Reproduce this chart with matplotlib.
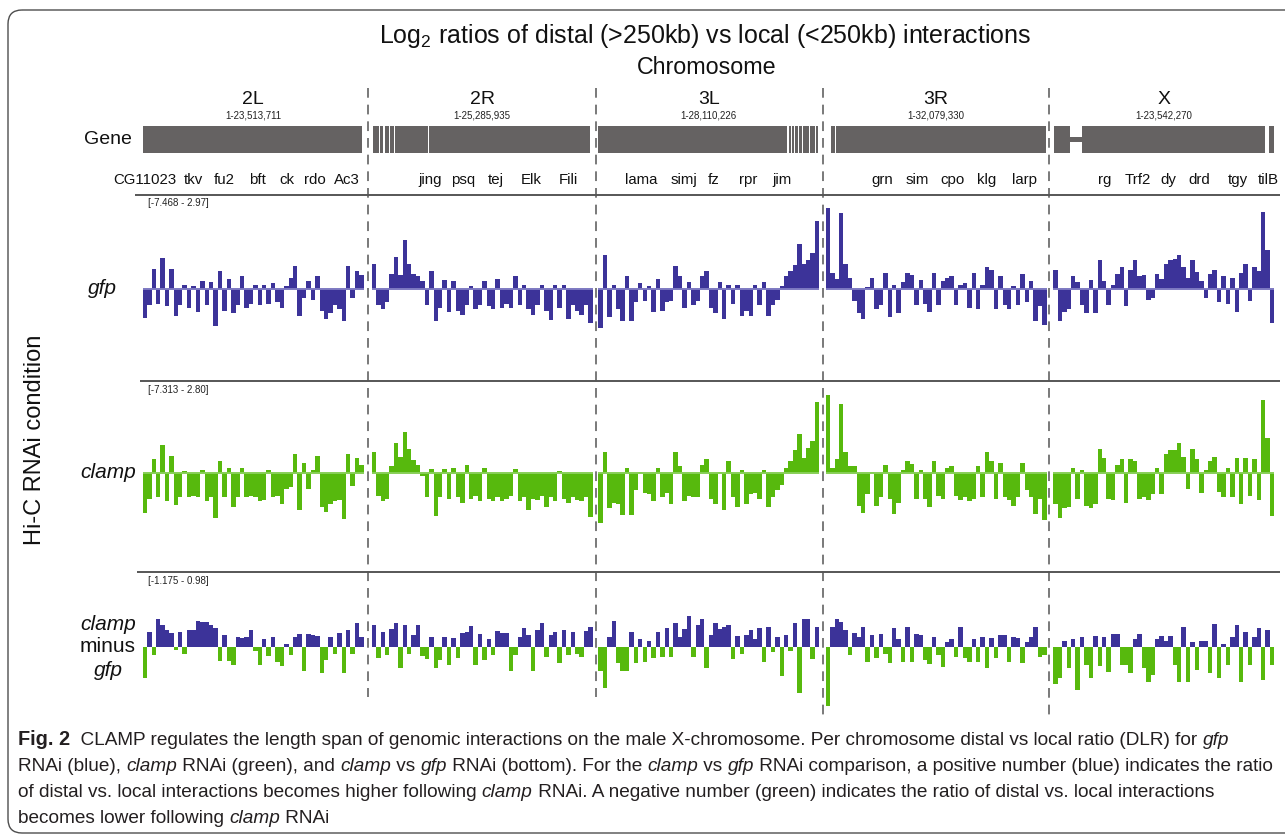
import matplotlib
matplotlib.use("Agg")
import matplotlib.pyplot as plt
import matplotlib.patches as patches
import matplotlib.transforms as mtransforms
import numpy as np

plt.rcParams['lines.scale_dashes'] = False
plt.rcParams['mathtext.default'] = 'regular'

W, H = 1285, 839
WIDE = ['Liberation Sans', 'DejaVu Sans']
NARROW = ['Liberation Sans Narrow', 'Liberation Sans', 'DejaVu Sans']

BLUE = '#3c3399'
GREEN = '#57b90d'
BLUE_LINE = '#7d79c2'
GREEN_LINE = '#88cf58'
GENE_GRAY = '#656262'
CAP_COLOR = '#231f20'

# chromosomes
chroms = ['2L', '2R', '3L', '3R', 'X']
chrom_len = [23513711, 25285935, 28110226, 32079330, 23542270]
chrom_range = ['1-23,513,711', '1-25,285,935', '1-28,110,226', '1-32,079,330', '1-23,542,270']

# gene labels (name, position in Mb)
genes_2L = [('CG11023', 0.26), ('tkv', 5.36), ('fu2', 8.65), ('bft', 12.16), ('ck', 15.35), ('rdo', 18.33), ('Ac3', 21.73)]
genes_2R = [('jing', 6.67), ('psq', 10.44), ('tej', 14.22), ('Elk', 18.22), ('Fili', 22.45)]
genes_3L = [('lama', 5.43), ('simj', 10.9), ('fz', 14.72), ('rpr', 19.04), ('jim', 23.37)]
genes_3R = [('grn', 8.17), ('sim', 13.26), ('cpo', 18.34), ('klg', 23.42), ('larp', 28.79)]
genes_X = [('rg', 5.51), ('Trf2', 9.02), ('dy', 12.22), ('drd', 15.52), ('tgy', 19.67), ('tilB', 22.87)]

# gene track coverage (start Mb, end Mb)
gene_blocks_2L = [(0.0, 23.33)]
gene_blocks_2R = [(0.15, 0.8), (0.92, 1.35), (1.47, 1.95), (2.07, 2.6), (2.72, 6.4), (6.52, 25.0)]
gene_blocks_3L = [(0.0, 24.05), (24.2, 24.45), (24.6, 24.85), (25.0, 25.35), (25.5, 25.9),
                  (26.05, 26.75), (26.9, 27.6), (27.75, 27.95)]
gene_blocks_3R = [(0.77, 1.35), (1.5, 31.95)]
gene_blocks_X = [(0.03, 1.78), (3.06, 22.55), (22.95, 23.5)]
gene_thin_X = [(1.78, 3.06)]

# log2 distal/local ratio, gfp RNAi (50 bins per chromosome)
gfp_2L = [-1.06, -0.6, 0.72, -0.55, 1.12, -0.65, 0.72, -1.0, -0.6, 0.12, -0.7, 0.1, -0.85, 0.3, -0.6,
          0.25, -1.35, 0.66, -0.8, 0.35, -0.9, -0.6, 0.45, -0.7, -0.55, 0.12, -0.6, 0.12, -0.55, 0.2,
          -0.5, -0.7, 0.1, 0.4, 0.83, -1.0, -0.35, 0.3, -0.4, 0.45, -0.8, -1.1, -0.9, -0.6, -0.75,
          -1.2, 0.83, -0.35, 0.66, 0.5]
gfp_2R = [0.9, -0.6, -0.75, -0.5, 0.55, 1.15, 0.5, 1.78, 0.9, 0.55, 0.45, 0.3, -0.6, 0.66, -1.2,
          -0.7, 0.32, -0.85, 0.3, -0.8, -0.95, -0.6, 0.1, -0.75, -0.6, 0.3, -0.65, -0.75, 0.35, -0.7,
          -0.55, -0.7, 0.46, -0.6, 0.15, -0.75, -0.95, -0.6, 0.12, -0.8, -1.15, 0.15, -0.7, 0.12, -1.1,
          -0.6, -0.8, -0.95, -0.6, -1.27]
gfp_3L = [-1.45, 1.23, -1.05, 0.12, -0.75, -1.2, 0.45, -1.2, -0.5, 0.2, -0.45, 0.1, -0.85, 0.35, -0.8,
          -0.5, -0.45, 0.83, 0.45, -0.7, 0.25, -0.6, -0.45, 0.45, 0.66, -0.7, -0.9, 0.25, -1.1, 0.15,
          -0.55, 0.12, -1.0, -0.8, -1.0, 0.12, -0.6, 0.25, -1.0, -0.6, -0.4, 0.1, 0.45, 0.65, 0.85,
          1.65, 0.9, 1.05, 1.3, 2.48]
gfp_3R = [2.94, 0.56, 0.35, 2.76, 0.9, 0.4, -0.45, -0.9, -1.12, 0.05, 0.38, -0.75, -0.6, 0.56, -1.05,
          0.15, -0.9, 0.25, 0.56, 0.5, -0.6, 0.32, -0.55, -0.85, 0.56, -0.6, 0.3, 0.38, 0.45, -0.6,
          0.15, 0.2, -0.7, 0.56, -0.75, 0.12, 0.8, 0.7, -0.75, 0.45, -0.6, -0.75, 0.1, -0.6, 0.55,
          -0.5, 0.3, -1.2, -0.65, -1.33]
gfp_X = [0.7, -1.2, -0.85, -0.75, 0.46, 0.25, -0.6, -0.9, 0.32, -0.9, 1.05, 0.3, -0.6, 0.15, 0.55,
         0.8, -0.65, 0.7, 1.05, 0.45, 0.5, -0.4, -0.35, 0.55, 0.35, 0.9, 1.05, 1.1, 1.23, 0.78,
         0.4, 1.05, 0.62, 0.3, -0.35, 0.55, 0.7, -0.5, 0.46, -0.55, 0.38, -0.85, 0.56, 0.9, -0.45,
         0.78, 0.65, 2.82, 1.4, -1.27]

# clamp RNAi
clamp_2L = [-1.43, -0.9, 0.5, -0.85, 1.0, -1.0, 0.62, -1.13, -0.85, 0.1, -0.85, -0.8, -0.85, 0.12, -1.0,
            -0.85, -1.58, 0.45, -0.85, 0.18, -1.2, -0.85, 0.18, -0.85, -0.8, -0.85, -1.0, -0.95, 0.12, -0.85,
            -0.8, -1.1, -0.55, -0.5, 0.7, -1.3, 0.36, -0.55, 0.12, 0.62, -1.2, -1.37, -1.1, -1.0, -0.95,
            -1.64, 0.7, -0.45, 0.55, 0.3]
clamp_2R = [0.77, -0.8, -1.0, -0.9, 0.25, 1.1, 0.57, 1.49, 0.86, 0.48, 0.3, -0.1, -0.85, 0.15, -1.52,
            -0.85, 0.15, -0.9, 0.2, -0.85, -1.05, 0.3, -0.9, -0.8, -1.0, 0.18, -0.9, -1.0, -0.85, -1.0,
            -0.9, -0.8, 0.15, -1.0, -0.85, -1.3, -0.9, -0.95, -0.8, -1.2, -0.85, -1.0, 0.1, -0.9, -1.05,
            -0.85, -0.95, -1.0, -0.85, -1.55]
clamp_3L = [-1.76, 0.77, -1.25, -1.05, -1.1, -1.5, 0.2, -1.5, -0.6, 0.05, -0.7, -0.75, -1.0, 0.2, -0.85,
            -0.7, -1.1, 0.77, 0.25, -1.0, -0.8, -0.85, -0.85, 0.3, 0.5, -0.9, -1.1, 0.06, -1.3, 0.45,
            -0.85, -1.2, 0.12, -1.1, -0.75, -0.7, -0.9, 0.12, -1.2, -0.85, -0.6, -0.4, 0.18, 0.45, 0.85,
            1.4, 0.55, 0.9, 1.17, 2.55]
clamp_3R = [2.8, 0.2, 0.5, 2.48, 0.77, 0.25, 0.25, -1.15, -1.43, -0.75, 0.06, -1.15, -0.85, 0.3, -0.9,
            -1.45, -1.05, 0.12, 0.45, 0.35, -0.9, 0.12, -0.9, -1.2, 0.45, -0.8, -0.9, 0.18, 0.25, -0.8,
            -0.95, -0.85, -1.0, -0.9, 0.25, -0.85, 0.77, 0.45, -0.9, 0.36, -0.85, -0.95, -1.15, -0.85, 0.36,
            -0.6, -0.85, -1.45, -0.9, -1.67]
clamp_X = [-1.1, -1.58, -1.25, -1.2, 0.18, -0.9, 0.12, -1.15, -1.25, -1.1, 0.86, 0.55, -0.9, -0.95, 0.3,
           0.5, -1.05, 0.5, 0.45, -0.9, -0.85, -0.95, -0.75, 0.2, -0.75, 0.7, 0.83, 0.85, 1.07, 0.6,
           -0.55, 0.86, 0.5, -0.7, 0.12, 0.45, 0.57, -0.65, -0.85, 0.18, -0.85, 0.55, -1.1, 0.55, -0.8,
           0.5, -0.95, 2.62, 1.25, -1.51]

# clamp minus gfp
diff_2L = [-1.0, 0.48, -0.27, 0.88, 0.68, 0.53, 0.45, -0.1, 0.48, -0.22, 0.53, 0.53, 0.82, 0.78, 0.78,
           0.7, 0.6, -0.45, 0.38, -0.45, -0.58, 0.32, 0.29, 0.32, 0.53, -0.14, -0.6, 0.24, -0.3, 0.32,
           -0.48, -0.62, 0.1, -0.27, 0.32, 0.4, -0.78, 0.4, 0.37, 0.35, -0.83, -0.42, 0.32, -0.22, 0.43,
           -0.83, 0.53, -0.22, 0.75, 0.32]
diff_2R = [0.68, -0.35, 0.48, -0.25, 0.58, 0.75, -0.69, 0.68, -0.22, 0.37, 0.68, -0.3, -0.38, 0.32, -0.69,
           -0.43, 0.32, -0.58, 0.28, -0.37, 0.43, 0.48, 0.67, -0.58, 0.39, -0.43, 0.26, -0.27, 0.5, 0.43,
           0.43, -0.78, -0.27, 0.32, 0.59, 0.37, -0.78, 0.53, 0.75, -0.32, 0.37, 0.48, -0.53, 0.53, -0.27,
           0.48, -0.22, -0.32, 0.5, 0.64]
diff_3L = [-0.78, -1.33, 0.32, 0.82, -0.53, -0.78, -0.78, 0.48, -0.53, 0.24, -0.48, 0.18, -0.37, 0.48, -0.32,
           0.61, -0.32, 0.75, 0.32, 0.55, 0.99, -0.32, 0.69, 0.9, -0.69, 0.37, 0.75, 0.58, 0.64, 0.69,
           -0.4, 0.34, -0.24, 0.37, 0.53, 0.25, 0.6, -0.48, 0.63, -0.18, 0.32, -0.93, 0.37, -0.14, 0.77,
           -1.49, 0.9, 0.9, -0.4, 0.64]
diff_3R = [-1.91, 0.64, 0.9, 0.8, 0.53, -0.27, 0.43, 0.32, 0.63, -0.48, 0.37, -0.35, 0.39, -0.22, -0.53,
           0.59, 0.25, -0.48, 0.62, -0.48, 0.39, 0.37, -0.43, -0.56, 0.32, -0.27, -0.64, 0.16, 0.24, -0.32,
           0.62, -0.37, -0.48, 0.24, -0.48, 0.32, -0.69, 0.29, -0.37, 0.37, 0.37, -0.48, 0.32, 0.29, -0.53,
           0.16, 0.32, 0.62, -0.32, -0.27]
diff_X = [-1.2, -0.99, 0.18, -0.69, 0.24, -1.38, 0.32, -0.58, -0.99, 0.34, -0.62, 0.32, -0.82, 0.39, 0.39,
          -0.57, -0.6, -0.85, 0.24, 0.39, -0.69, -1.14, -0.9, 0.24, 0.34, 0.18, 0.34, -0.57, -1.12, 0.64,
          -1.14, 0.16, -0.74, 0.18, 0.18, -0.85, 0.74, -0.99, 0.1, -0.58, 0.32, 0.69, -1.12, 0.46, -0.57,
          0.32, 0.59, -1.06, 0.53, -0.57]

gene_labels = [genes_2L, genes_2R, genes_3L, genes_3R, genes_X]
gene_blocks = [gene_blocks_2L, gene_blocks_2R, gene_blocks_3L, gene_blocks_3R, gene_blocks_X]
gene_thin = [[], [], [], [], gene_thin_X]

# track: values per chromosome, colour, baseline line colour, range text,
#        pixel layout (top, bottom, baseline, px per unit)
tracks = [
    ([gfp_2L, gfp_2R, gfp_3L, gfp_3R, gfp_X], 'gfp', BLUE_LINE, '[-7.468 - 2.97]', (196, 380, 288.7, 27.3)),
    ([clamp_2L, clamp_2R, clamp_3L, clamp_3R, clamp_X], 'clamp', GREEN_LINE, '[-7.313 - 2.80]', (383, 571, 473.3, 28.0)),
    ([diff_2L, diff_2R, diff_3L, diff_3R, diff_X], 'diff', None, '[-1.175 - 0.98]', (574, 830, 646.7, 31.3)),
]

panel_left = [142.7, 371.7, 598.3, 825.7, 1053.3]
panel_w = 221

fig = plt.figure(figsize=(W / 100, H / 100), dpi=100)
fig.patch.set_facecolor('white')
over = fig.add_axes([0, 0, 1, 1])
over.set_xlim(0, W)
over.set_ylim(H, 0)
over.axis('off')
renderer = fig.canvas.get_renderer()


def px_axes(left, top, width, height):
    ax = fig.add_axes([left / W, 1 - (top + height) / H, width / W, height / H])
    ax.axis('off')
    ax.patch.set_alpha(0)
    return ax


def text_width(s, **kw):
    t1 = over.text(0, 0, 'x' + s + 'x', **kw)
    t2 = over.text(0, 0, 'xx', **kw)
    w = t1.get_window_extent(renderer).width - t2.get_window_extent(renderer).width
    t1.remove()
    t2.remove()
    return w


def fit_size(s, target, **kw):
    return 10 * target / text_width(s, fontsize=10, **kw)


# border of the figure panel
over.add_patch(patches.FancyBboxPatch((8, 10), 1330, 823, boxstyle='round,pad=0,rounding_size=14',
                                      fill=False, edgecolor='#4d4d4d', lw=1.0))

# titles
title = 'Log$_2$ ratios of distal (>250kb) vs local (<250kb) interactions'
over.text(705, 36, title, ha='center', va='center', family=WIDE,
          fontsize=fit_size(title, 654, family=WIDE), color='#111')
over.text(707, 67, 'Chromosome', ha='center', va='center', family=WIDE,
          fontsize=fit_size('Chromosome', 140, family=WIDE), color='#111')

over.text(108, 140, 'Gene', ha='center', va='center', family=WIDE, fontsize=14, color='#111')
over.text(35, 440, 'Hi-C RNAi condition', ha='center', va='center', rotation=90,
          family=WIDE, fontsize=17, color='#111')
over.text(102, 289, 'gfp', ha='center', va='center', family=WIDE, style='italic', fontsize=15, color='#111')
over.text(108, 473, 'clamp', ha='center', va='center', family=WIDE, style='italic', fontsize=15, color='#111')
over.text(108, 625, 'clamp', ha='center', va='center', family=WIDE, style='italic', fontsize=15, color='#111')
over.text(108, 647, 'minus', ha='center', va='center', family=WIDE, fontsize=15, color='#111')
over.text(108, 670, 'gfp', ha='center', va='center', family=WIDE, style='italic', fontsize=15, color='#111')

# track separators and chromosome dividers
for y, x0 in [(195, 135), (381, 140), (572, 137)]:
    over.plot([x0, 1280], [y, y], color='#3a3a3a', lw=1.2, solid_capstyle='butt')
for x, y1 in zip([368, 596, 823, 1049], [697, 697, 717, 717]):
    over.plot([x, x], [88, y1], color='#555555', lw=1.1, dashes=(7, 5))

gene_size = fit_size('CG11023', 63, family=NARROW)

for i, name in enumerate(chroms):
    cx = panel_left[i] + panel_w / 2
    over.text(cx, 100, name, ha='center', va='center', family=WIDE, fontsize=14, color='#111')
    over.text(cx, 115, chrom_range[i], ha='center', va='center', family=WIDE, fontsize=7, color='#222')

    length_mb = chrom_len[i] / 1e6

    # gene track
    gax = px_axes(panel_left[i], 126, panel_w, 27)
    gax.set_xlim(0, length_mb)
    gax.set_ylim(0, 1)
    gax.broken_barh([(a, b - a) for a, b in gene_blocks[i]], (0, 1), color=GENE_GRAY, lw=0)
    if gene_thin[i]:
        gax.broken_barh([(a, b - a) for a, b in gene_thin[i]], (0.42, 0.16), color=GENE_GRAY, lw=0)
    trans = mtransforms.blended_transform_factory(gax.transData, over.transData)
    for g, pos in gene_labels[i]:
        over.text(pos, 180, g, transform=trans, ha='center', va='center', family=NARROW,
                  fontsize=gene_size, color='#111')

    # data tracks
    for values_all, kind, line_col, rng, (top, bottom, base, scale) in tracks:
        vals = np.array(values_all[i])
        n = len(vals)
        ax = px_axes(panel_left[i], top, panel_w, bottom - top)
        ax.set_xlim(0, length_mb)
        ax.set_ylim(-(bottom - base) / scale, (base - top) / scale)
        centers = (np.arange(n) + 0.5) * length_mb / n
        if kind == 'gfp':
            colors = BLUE
        elif kind == 'clamp':
            colors = GREEN
        else:
            colors = [BLUE if v > 0 else GREEN for v in vals]
        ax.bar(centers, vals, width=length_mb / n, color=colors, lw=0, antialiased=False)
        if line_col:
            ax.axhline(0, color=line_col, lw=1.4)
        if i == 0:
            over.text(148, top + 7, rng, ha='left', va='center', family=WIDE, fontsize=7, color='#222')

# caption
cap_lines = [
    [('Fig. 2', 'b'), ('  CLAMP regulates the length span of genomic interactions on the male X-chromosome. '
                       'Per chromosome distal vs local ratio (DLR) for ', 'n'), ('gfp', 'i')],
    [('RNAi (blue), ', 'n'), ('clamp', 'i'), (' RNAi (green), and ', 'n'), ('clamp', 'i'), (' vs ', 'n'),
     ('gfp', 'i'), (' RNAi (bottom). For the ', 'n'), ('clamp', 'i'), (' vs ', 'n'), ('gfp', 'i'),
     (' RNAi comparison, a positive number (blue) indicates the ratio', 'n')],
    [('of distal vs. local interactions becomes higher following ', 'n'), ('clamp', 'i'),
     (' RNAi. A negative number (green) indicates the ratio of distal vs. local interactions', 'n')],
    [('becomes lower following ', 'n'), ('clamp', 'i'), (' RNAi', 'n')],
]


def run_kw(style, size):
    kw = dict(fontsize=size, family=NARROW, color=CAP_COLOR, va='baseline', ha='left')
    if style == 'i':
        kw['style'] = 'italic'
    if style == 'b':
        kw['weight'] = 'bold'
        kw['fontsize'] = size * 1.05
    return kw


natural = sum(text_width(s, **run_kw(st, 10)) for s, st in cap_lines[1])
cap_size = 10 * 1260 / natural

for k, runs in enumerate(cap_lines):
    x = 18
    y = 745 + 26 * k
    for s, st in runs:
        kw = run_kw(st, cap_size)
        over.text(x, y, s, **kw)
        x += text_width(s, **kw)

fig.savefig('out.png', dpi=100)
